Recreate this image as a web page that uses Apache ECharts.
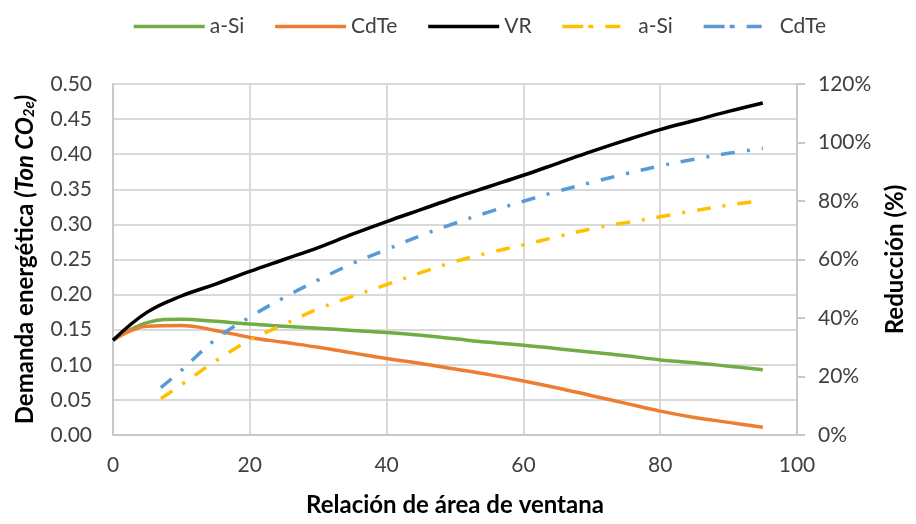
<!DOCTYPE html>
<html>
<head>
<meta charset="utf-8">
<script src="https://cdn.jsdelivr.net/npm/echarts@6/dist/echarts.min.js"></script>
<style>
  html, body { margin: 0; padding: 0; background: #fff; }
  #chart { width: 916px; height: 524px; }
</style>
</head>
<body>
<div id="chart"></div>
<script>
// Window-area ratio (x) for the energy-demand curves
const xDemand = [0, 5, 10, 15, 20, 25, 30, 35, 40, 45, 50, 55, 60, 65, 70, 75, 80, 85, 90, 95];
// Energy demand, Ton CO2e (left axis)
const demandASi = [0.135, 0.160, 0.165, 0.162, 0.158, 0.155, 0.152, 0.149, 0.146, 0.142, 0.137, 0.132, 0.128, 0.123, 0.118, 0.113, 0.107, 0.103, 0.098, 0.093];
const demandCdTe = [0.135, 0.155, 0.156, 0.149, 0.139, 0.132, 0.125, 0.117, 0.109, 0.102, 0.094, 0.086, 0.077, 0.067, 0.056, 0.045, 0.034, 0.025, 0.018, 0.011];
const demandVR = [0.135, 0.175, 0.198, 0.215, 0.233, 0.250, 0.267, 0.286, 0.304, 0.321, 0.338, 0.354, 0.370, 0.387, 0.404, 0.420, 0.435, 0.448, 0.461, 0.473];

// Window-area ratio (x) for the reduction curves
const xReduction = [7, 10, 15, 20, 25, 30, 35, 40, 45, 50, 55, 60, 65, 70, 75, 80, 85, 90, 95];
// Reduction, % (right axis)
const reductionASi = [12.4, 17.2, 25.3, 32.4, 37.8, 43.1, 47.4, 51.4, 55.5, 59.3, 62.3, 65.0, 67.8, 70.5, 72.6, 74.6, 76.7, 78.6, 80.2];
const reductionCdTe = [16.2, 22.1, 32.7, 40.3, 47.0, 53.0, 58.6, 63.4, 68.2, 72.4, 76.3, 79.9, 83.3, 86.4, 89.3, 92.0, 94.3, 96.3, 98.0];

// Axis ticks
const xTicks = { min: 0, max: 100, step: 20 };
const leftTicks = { min: 0, max: 0.5, step: 0.05 };
const rightTicks = { min: 0, max: 120, step: 20 };

const FONT = 'Lato, "Noto Sans", sans-serif';
const pairs = (xs, ys) => xs.map((x, i) => [x, ys[i]]);

const dashPlot = [14, 12, 3, 12];
const dashLegend = [21, 5, 5, 12, 15, 100];

const chart = echarts.init(document.getElementById('chart'), null, { renderer: 'canvas' });

const lineSeries = (name, data, color, yAxisIndex, dashed) => ({
  name: name,
  type: 'line',
  yAxisIndex: yAxisIndex,
  data: data,
  smooth: 0.4,
  symbol: 'none',
  showSymbol: false,
  silent: true,
  lineStyle: {
    color: color,
    width: 3.5,
    type: dashed ? dashPlot : 'solid',
    cap: 'butt'
  },
  itemStyle: { color: color }
});

const titleStyle = { fontFamily: FONT, fontSize: 24, fontWeight: 'bold', color: '#000' };

chart.setOption({
  animation: false,
  backgroundColor: '#ffffff',
  textStyle: { fontFamily: FONT },
  legend: {
    left: 127,
    top: 11,
    itemWidth: 71,
    itemHeight: 14,
    itemGap: 29,
    itemStyle: { opacity: 0 },
    lineStyle: { width: 3.5 },
    formatter: name => name.replace(' (%)', ''),
    textStyle: { fontFamily: FONT, fontSize: 21, color: '#404040' },
    data: [
      { name: 'a-Si' },
      { name: 'CdTe' },
      { name: 'VR' },
      { name: 'a-Si (%)', lineStyle: { type: dashLegend, width: 3.5 } },
      { name: 'CdTe (%)', lineStyle: { type: dashLegend, width: 3.5 } }
    ]
  },
  grid: { left: 113, right: 119, top: 84, bottom: 89, containLabel: false },
  xAxis: {
    type: 'value',
    min: xTicks.min,
    max: xTicks.max,
    interval: xTicks.step,
    name: 'Relación de área de ventana',
    nameLocation: 'middle',
    nameGap: 58,
    nameTextStyle: titleStyle,
    axisLine: { show: true, lineStyle: { color: '#c8c8c8', width: 2 } },
    axisTick: { show: false },
    axisLabel: { margin: 20, fontSize: 21, color: '#404040', fontFamily: FONT },
    splitLine: { show: true, lineStyle: { color: '#d9d9d9', width: 2 } }
  },
  yAxis: [
    {
      type: 'value',
      position: 'left',
      min: leftTicks.min,
      max: leftTicks.max,
      interval: leftTicks.step,
      name: '{b|Demanda energética }{i|(Ton CO}{s|2e}{i|)}',
      nameLocation: 'middle',
      nameRotate: 90,
      nameGap: 76,
      nameTextStyle: {
        fontFamily: FONT,
        color: '#000',
        rich: {
          b: { fontFamily: FONT, fontSize: 24, fontWeight: 'bold', color: '#000', lineHeight: 30, verticalAlign: 'bottom' },
          i: { fontFamily: FONT, fontSize: 24, fontWeight: 'bold', fontStyle: 'italic', color: '#000', lineHeight: 30, verticalAlign: 'bottom' },
          s: { fontFamily: FONT, fontSize: 15, fontWeight: 'bold', fontStyle: 'italic', color: '#000', lineHeight: 15, verticalAlign: 'bottom' }
        }
      },
      axisLine: { show: true, lineStyle: { color: '#c8c8c8', width: 2 } },
      axisTick: { show: false },
      axisLabel: {
        margin: 21,
        fontSize: 21,
        color: '#404040',
        fontFamily: FONT,
        formatter: v => v.toFixed(2)
      },
      splitLine: { show: true, lineStyle: { color: '#d9d9d9', width: 2 } }
    },
    {
      type: 'value',
      position: 'right',
      min: rightTicks.min,
      max: rightTicks.max,
      interval: rightTicks.step,
      name: 'Reducción (%)',
      nameLocation: 'middle',
      nameRotate: 90,
      nameGap: 86,
      nameTextStyle: titleStyle,
      axisLine: { show: true, lineStyle: { color: '#c8c8c8', width: 2 } },
      axisTick: { show: true, inside: false, length: 8, lineStyle: { color: '#c8c8c8', width: 2 } },
      axisLabel: {
        margin: 21,
        fontSize: 21,
        color: '#404040',
        fontFamily: FONT,
        formatter: v => Math.round(v) + '%'
      },
      splitLine: { show: false }
    }
  ],
  series: [
    lineSeries('a-Si', pairs(xDemand, demandASi), '#70ad47', 0, false),
    lineSeries('CdTe', pairs(xDemand, demandCdTe), '#ed7d31', 0, false),
    lineSeries('VR', pairs(xDemand, demandVR), '#000000', 0, false),
    lineSeries('a-Si (%)', pairs(xReduction, reductionASi), '#ffc000', 1, true),
    lineSeries('CdTe (%)', pairs(xReduction, reductionCdTe), '#5b9bd5', 1, true)
  ]
});
</script>
</body>
</html>
